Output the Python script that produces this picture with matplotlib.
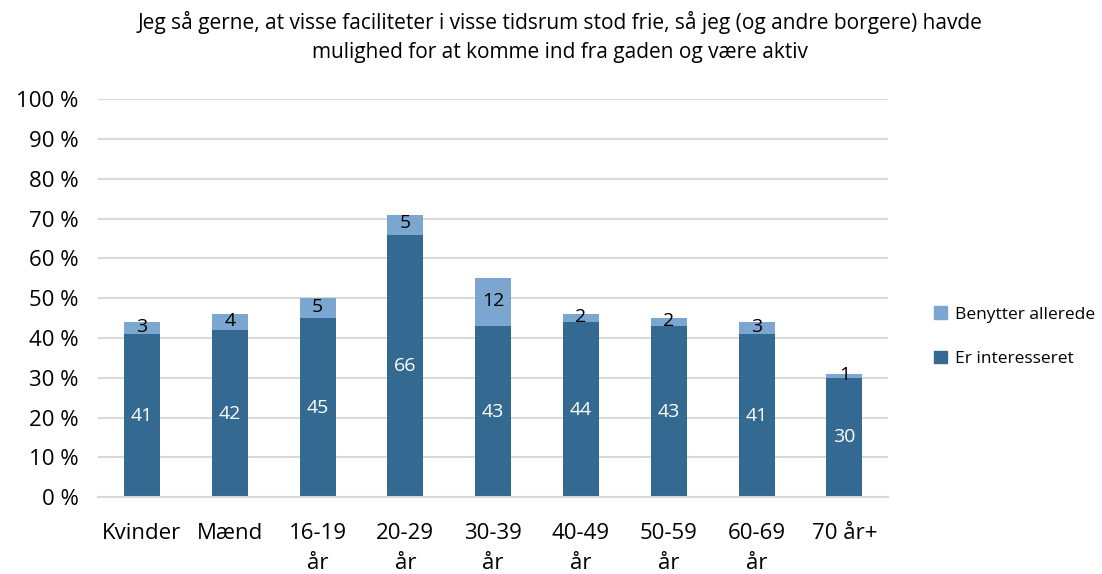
import matplotlib
matplotlib.use("Agg")
import matplotlib.pyplot as plt
from matplotlib.patches import Patch
import numpy as np

categories = ["Kvinder", "Mænd", "16-19\når", "20-29\når", "30-39\når", "40-49\når", "50-59\når", "60-69\når", "70 år+"]
interesseret = [41, 42, 45, 66, 43, 44, 43, 41, 30]
benytter = [3, 4, 5, 5, 12, 2, 2, 3, 1]
title = "Jeg så gerne, at visse faciliteter i visse tidsrum stod frie, så jeg (og andre borgere) havde\nmulighed for at komme ind fra gaden og være aktiv"

plt.rcParams['font.family'] = ['Open Sans', 'DejaVu Sans']
dark = "#346A92"
light = "#7AA6D0"

fig = plt.figure(figsize=(11.02, 5.74), dpi=100)
ax = fig.add_axes([0.089, 0.134, 0.717, 0.693])
x = np.arange(len(categories))
w = 0.41
ax.bar(x, interesseret, w, color=dark, zorder=2)
ax.bar(x, benytter, w, bottom=interesseret, color=light, zorder=2)
for xi, a, b in zip(x, interesseret, benytter):
    ax.text(xi, a / 2, str(a), ha="center", va="center", color="white", fontsize=14)
    ax.text(xi, a + b / 2 + 0.3, str(b), ha="center", va="center", color="black", fontsize=14)

ax.set_ylim(0, 100)
ax.set_xlim(-0.5, len(categories) - 0.5)
ax.set_yticks(range(0, 101, 10))
ax.set_yticklabels([f"{v} %" for v in range(0, 101, 10)], fontsize=16)
ax.set_xticks(x)
ax.set_xticklabels(categories, fontsize=16, linespacing=1.55, va="top")
ax.tick_params(axis="x", length=0, pad=19)
ax.tick_params(axis="y", length=0, pad=14)
ax.grid(axis="y", color="#D9D9D9", linewidth=1.5, zorder=0)
for s in ["top", "right", "left"]:
    ax.spines[s].set_visible(False)
ax.spines["bottom"].set_color("#D9D9D9")
ax.spines["bottom"].set_linewidth(1.5)

fig.text(0.508, 0.98, title, ha="center", va="top", fontsize=15, linespacing=1.45)

handles = [Patch(color=light), Patch(color=dark)]
fig.legend(handles, ["Benytter allerede", "Er interesseret"], loc="center left",
           bbox_to_anchor=(0.848, 0.413), frameon=False, fontsize=12.5,
           handlelength=0.7, handleheight=0.7, handletextpad=0.5, labelspacing=1.65,
           borderpad=0, borderaxespad=0)

fig.savefig("out.png", dpi=100)
